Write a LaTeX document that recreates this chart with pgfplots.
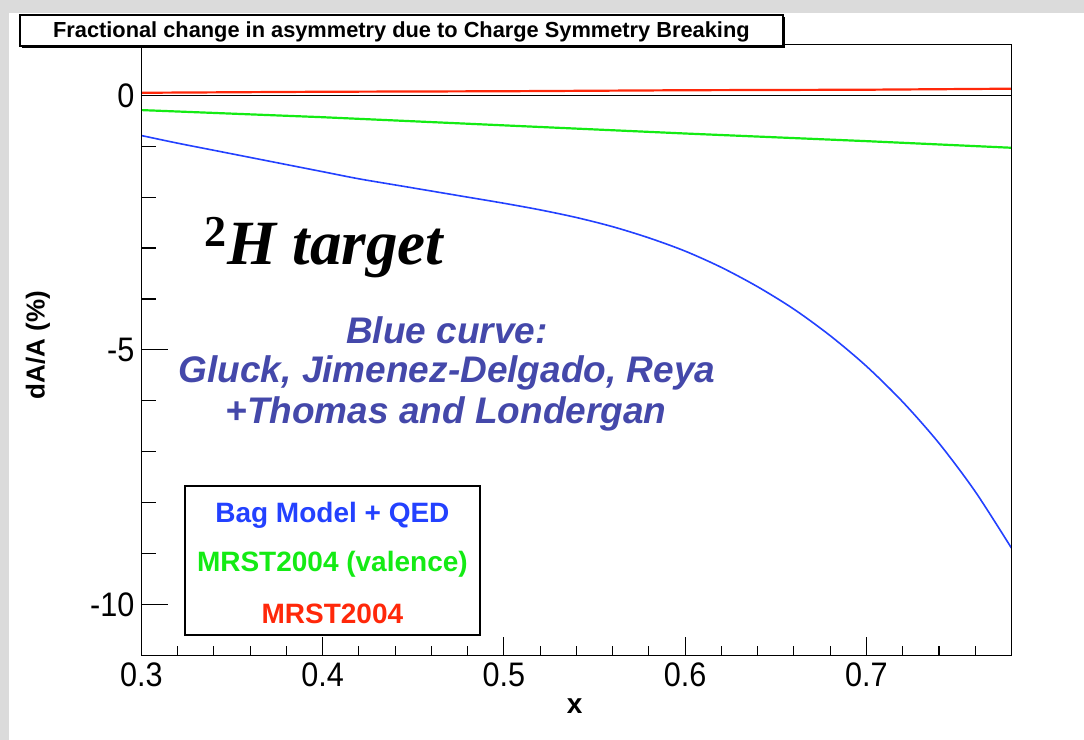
\documentclass[border=0pt]{standalone}
\usepackage{fontspec}
\setmainfont{Liberation Sans}
\newfontfamily\timesfont{Liberation Serif}
\newfontfamily\narrowfont[FakeStretch=0.9]{Liberation Sans}
\usepackage{pgfplots}
\pgfplotsset{compat=1.18}
\definecolor{cblue}{RGB}{35,65,255}
\definecolor{cgreen}{RGB}{20,235,20}
\definecolor{cred}{RGB}{255,40,10}
\definecolor{ctext}{RGB}{68,72,170}

\pgfplotstableread{
x y
0.30 -0.79
0.32 -0.94
0.34 -1.08
0.36 -1.22
0.38 -1.36
0.40 -1.50
0.42 -1.64
0.44 -1.76
0.46 -1.88
0.48 -2.00
0.50 -2.12
0.52 -2.25
0.54 -2.40
0.56 -2.58
0.58 -2.80
0.60 -3.06
0.62 -3.38
0.64 -3.76
0.66 -4.20
0.68 -4.72
0.70 -5.32
0.72 -6.02
0.74 -6.83
0.76 -7.78
0.78 -8.89
}\bagqed

\pgfplotstableread{
x y
0.30 -0.29
0.40 -0.43
0.50 -0.59
0.60 -0.75
0.70 -0.90
0.78 -1.03
}\mrstval

\pgfplotstableread{
x y
0.30 0.05
0.40 0.07
0.50 0.08
0.60 0.10
0.70 0.11
0.78 0.13
}\mrst

\begin{document}
\begin{tikzpicture}
\fill[black!14] (-70.7pt,-42.3pt) rectangle (471.3pt,327.7pt);
\fill[white] (-66.2pt,-42.3pt) rectangle (471.3pt,321.2pt);
\useasboundingbox (-70.7pt,-42.3pt) rectangle (471.3pt,327.7pt);

% main axis: frame, x ticks, data
\begin{axis}[at={(0,0)}, anchor=south west, scale only axis,
  width=435pt, height=305.5pt,
  xmin=0.3, xmax=0.78, ymin=-11, ymax=1,
  axis line style={line width=0.8pt},
  xtick={0.3,0.4,0.5,0.6,0.7}, xticklabels={0.3,0.4,0.5,0.6,0.7},
  minor xtick={0.32,0.34,0.36,0.38,0.42,0.44,0.46,0.48,0.52,0.54,0.56,0.58,0.62,0.64,0.66,0.68,0.72,0.74,0.76},
  xtick pos=bottom, tick align=inside,
  major tick length=9pt, minor tick length=4.5pt,
  tick style={black, line width=0.6pt},
  ytick=\empty,
  /pgf/number format/assume math mode=true,
  tick label style={font=\narrowfont\fontsize{17}{17}\selectfont},
  xlabel={\bfseries x}, ylabel={\bfseries dA/A (\%)},
  every axis x label/.style={at={(axis description cs:0.498,-0.083)}, anchor=center, font=\fontsize{14}{14}\selectfont},
  every axis y label/.style={at={(axis description cs:-0.119,0.508)}, anchor=center, rotate=90, font=\fontsize{13}{13}\selectfont},
  clip=true,
]
\addplot[black, line width=0.5pt] coordinates {(0.3,0) (0.78,0)};
\addplot[cred, line width=1.1pt] table[x=x,y=y] {\mrst};
\addplot[cgreen, line width=1.1pt] table[x=x,y=y] {\mrstval};
\addplot[cblue, line width=0.8pt, smooth] table[x=x,y=y] {\bagqed};
\end{axis}

% y ticks only
\begin{axis}[at={(0,0)}, anchor=south west, scale only axis,
  width=435pt, height=305.5pt,
  xmin=0.3, xmax=0.78, ymin=-11, ymax=1,
  hide x axis,
  axis line style={line width=0.8pt},
  ytick={-10,-5,0}, yticklabels={-10,-5,0},
  minor ytick={-9,-8,-7,-6,-4,-3,-2,-1},
  ytick pos=left, tick align=inside,
  major tick length=13.5pt, minor tick length=7.5pt,
  tick style={black, line width=0.6pt},
  /pgf/number format/assume math mode=true,
  tick label style={font=\narrowfont\fontsize{17}{17}\selectfont},
]
\addplot[draw=none] coordinates {(0.3,0)};
\end{axis}

% title box
\fill[black] (-59.7pt,303.7pt) rectangle (321.8pt,319.2pt);
\draw[fill=white, line width=0.6pt] (-60.7pt,304.7pt) rectangle (320.8pt,320.2pt);
\node[font=\bfseries\fontsize{10.9}{10.9}\selectfont] at (130pt,311.8pt) {Fractional change in asymmetry due to Charge Symmetry Breaking};

% 2H target
\node[anchor=base west, inner sep=0pt, font=\timesfont\bfseries\itshape\fontsize{31.5}{31.5}\selectfont] at (31.5pt,195.5pt) {\textsuperscript{\upshape 2}H target};

% blue annotation
\node[ctext, font=\bfseries\itshape\fontsize{18.5}{18.5}\selectfont] at (152.8pt,162.7pt) {Blue curve:};
\node[ctext, font=\bfseries\itshape\fontsize{18.5}{18.5}\selectfont] at (152.8pt,141.2pt) {Gluck, Jimenez-Delgado, Reya};
\node[ctext, font=\bfseries\itshape\fontsize{18.5}{18.5}\selectfont] at (152.3pt,120.7pt) {+Thomas and Londergan};

% legend box
\fill[black] (22.4pt,9.6pt) rectangle (169.9pt,84.1pt);
\draw[fill=white, line width=0.6pt] (21.8pt,10.2pt) rectangle (169.3pt,84.7pt);
\node[cblue, font=\bfseries\fontsize{14}{14}\selectfont] at (95.5pt,70.2pt) {Bag Model + QED};
\node[cgreen, font=\bfseries\fontsize{14}{14}\selectfont] at (95.5pt,45.7pt) {MRST2004 (valence)};
\node[cred, font=\bfseries\fontsize{14}{14}\selectfont] at (95.5pt,20.7pt) {MRST2004};
\end{tikzpicture}
\end{document}
